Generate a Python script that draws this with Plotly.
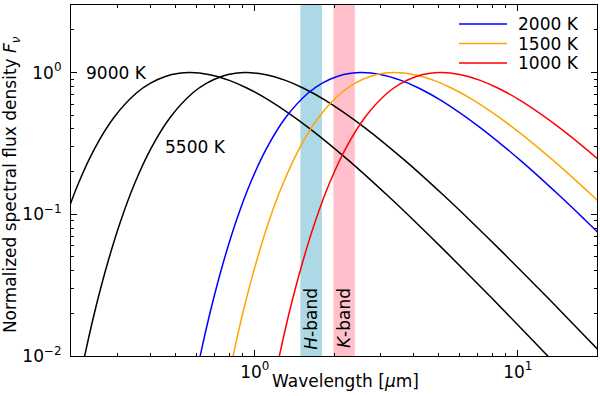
import plotly.graph_objects as go

# normalized blackbody F_nu profile (same shape for every temperature)
flux_norm = [0.004325, 0.006690, 0.009536, 0.014672, 0.025422, 0.054296, 0.091551,
             0.135566, 0.238043, 0.409451, 0.631886, 0.772600, 0.880946, 0.970346,
             1.0, 0.988756, 0.939264, 0.840091, 0.720203, 0.480330, 0.290920,
             0.164251, 0.087931, 0.045156, 0.022428, 0.010840, 0.005121]

# wavelengths in micron for each curve
wl_9000 = [19.98, 15.99, 13.32, 10.66, 7.993, 5.329, 3.997, 3.197, 2.284, 1.599, 1.142,
           0.9404, 0.7993, 0.6661, 0.5666, 0.5157, 0.4568, 0.3997, 0.3553, 0.2907,
           0.2459, 0.2131, 0.1881, 0.1683, 0.1523, 0.1390, 0.1279]
wl_5500 = [32.70, 26.16, 21.80, 17.44, 13.08, 8.720, 6.540, 5.232, 3.737, 2.616, 1.869,
           1.539, 1.308, 1.090, 0.9272, 0.8439, 0.7474, 0.6540, 0.5813, 0.4756,
           0.4025, 0.3488, 0.3078, 0.2754, 0.2491, 0.2275, 0.2093]
wl_2000 = [89.92, 71.94, 59.95, 47.96, 35.97, 23.98, 17.98, 14.39, 10.28, 7.194, 5.139,
           4.232, 3.597, 2.997, 2.550, 2.321, 2.055, 1.798, 1.599, 1.308,
           1.107, 0.9592, 0.8463, 0.7573, 0.6851, 0.6256, 0.5755]
wl_1500 = [119.9, 95.92, 79.93, 63.95, 47.96, 31.97, 23.98, 19.18, 13.70, 9.592, 6.851,
           5.642, 4.796, 3.997, 3.400, 3.094, 2.741, 2.398, 2.132, 1.744,
           1.476, 1.279, 1.128, 1.010, 0.9135, 0.8341, 0.7673]
wl_1000 = [179.8, 143.9, 119.9, 95.92, 71.94, 47.96, 35.97, 28.78, 20.55, 14.39, 10.28,
           8.463, 7.194, 5.995, 5.100, 4.641, 4.111, 3.597, 3.197, 2.616,
           2.214, 1.918, 1.693, 1.515, 1.370, 1.251, 1.151]

h_band = [1.49, 1.80]
k_band = [1.99, 2.40]

font = "DejaVu Sans"
fig = go.Figure()

fig.add_vrect(x0=h_band[0], x1=h_band[1], fillcolor="#add8e6", opacity=1, line_width=0, layer="below")
fig.add_vrect(x0=k_band[0], x1=k_band[1], fillcolor="#ffc0cb", opacity=1, line_width=0, layer="below")

curves = [
    (wl_9000, "black", "9000 K"),
    (wl_5500, "black", "5500 K"),
    (wl_2000, "#0000ff", "2000 K"),
    (wl_1500, "#ffa500", "1500 K"),
    (wl_1000, "#ff0000", "1000 K"),
]
for wl, col, name in curves:
    fig.add_trace(go.Scatter(x=wl, y=flux_norm, mode="lines", name=name, showlegend=False,
                             line=dict(color=col, width=1.5, shape="spline")))

lab = dict(size=17, color="black", family=font)
# curve labels
fig.add_annotation(x=-0.526, y=0, text="9000 K", showarrow=False, font=lab)
fig.add_annotation(x=-0.2255, y=-0.525, text="5500 K", showarrow=False, font=lab)
fig.add_annotation(x=0.215, y=-1.734, text="<i>H</i>-band", textangle=-90, showarrow=False, font=lab)
fig.add_annotation(x=0.342, y=-1.734, text="<i>K</i>-band", textangle=-90, showarrow=False, font=lab)

# legend drawn by hand (matplotlib style, no frame)
leg_rows = [0.9459, 0.8903, 0.8348]
for (wl, col, name), ly in zip(curves[2:], leg_rows):
    fig.add_shape(type="line", xref="paper", yref="paper", x0=0.7376, x1=0.8289, y0=ly, y1=ly,
                  line=dict(color=col, width=1.5))
    fig.add_annotation(xref="paper", yref="paper", x=0.8517, y=ly, xanchor="left", yanchor="middle",
                       xshift=-3, text=name, showarrow=False, font=lab)

# axis titles
fig.add_annotation(xref="paper", yref="paper", x=0.521, y=-0.071, xanchor="center", yanchor="middle",
                   text="Wavelength [<i>μ</i>m]", showarrow=False, font=lab)
fig.add_annotation(xref="paper", yref="paper", x=-0.114, y=0.487, xanchor="center", yanchor="middle",
                   textangle=-90, text="Normalized spectral flux density <i>F<sub>ν</sub></i>",
                   showarrow=False, font=lab)

x_minor = [0.3, 0.4, 0.5, 0.6, 0.7, 0.8, 0.9, 2, 3, 4, 5, 6, 7, 8, 9, 20]
y_minor = [0.02, 0.03, 0.04, 0.05, 0.06, 0.07, 0.08, 0.09,
           0.2, 0.3, 0.4, 0.5, 0.6, 0.7, 0.8, 0.9, 2, 3]

axis_common = dict(showline=True, linecolor="black", linewidth=1.2, mirror="allticks",
                   ticks="inside", ticklen=6, tickcolor="black", showgrid=False, zeroline=False,
                   automargin=False, tickfont=dict(size=17, family=font, color="black"))

fig.update_xaxes(type="log", range=[-0.699, 1.301],
                 tickvals=[1, 10], ticktext=["10<sup>0</sup>", "10<sup>1</sup>"],
                 minor=dict(tickvals=x_minor, ticks="inside", ticklen=3, tickcolor="black"),
                 **axis_common)
fig.update_yaxes(type="log", range=[-2, 0.477],
                 tickvals=[0.01, 0.1, 1],
                 ticktext=["10<sup>−2</sup>", "10<sup>−1</sup>", "10<sup>0</sup>"],
                 minor=dict(tickvals=y_minor, ticks="inside", ticklen=3, tickcolor="black"),
                 ticklabelstandoff=5,
                 **axis_common)

fig.update_layout(
    width=600, height=396,
    margin=dict(l=71, r=3, t=5, b=40),
    plot_bgcolor="white", paper_bgcolor="white",
    font=dict(family=font, size=17, color="black"),
    showlegend=False,
)

fig.write_html("out.html", config={"displayModeBar": False},
               post_script="document.body.style.margin='0px';")
